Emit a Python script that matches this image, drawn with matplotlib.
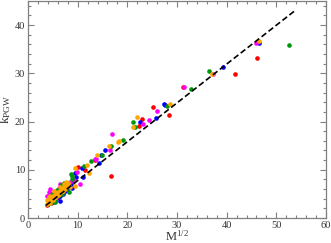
import matplotlib
matplotlib.use('Agg')
import matplotlib.pyplot as plt
from matplotlib.ticker import MultipleLocator

plt.rcParams['font.family'] = ['Liberation Serif', 'DejaVu Serif']
plt.rcParams['mathtext.fontset'] = 'custom'
plt.rcParams['mathtext.rm'] = 'Liberation Serif'

# points per series, (M^1/2, k_PGW)
red_x = [3.9, 4.6, 5.4, 4.9, 6.3, 7.4, 8.0, 9.2, 10.0, 11.5, 5.8, 7.0,
         13.4, 16.8, 22.4, 22.9, 25.1, 28.4, 31.2, 41.6, 46.2]
red_y = [2.7, 3.2, 3.6, 4.4, 5.6, 7.1, 6.6, 7.9, 10.5, 10.0, 4.2, 6.5,
         12.1, 8.7, 19.0, 20.5, 23.1, 21.4, 27.1, 29.8, 33.2]

blue_x = [4.1, 5.0, 6.4, 6.5, 7.0, 7.5, 7.8, 8.2, 8.6, 8.8, 6.0, 5.6,
          9.5, 9.7, 9.0, 10.9, 11.0, 14.3, 14.7, 15.6, 22.5, 25.8,
          27.4, 27.6, 39.2, 46.5]
blue_y = [2.8, 3.3, 3.5, 4.5, 4.9, 5.5, 6.0, 6.4, 7.0, 6.2, 4.3, 4.6,
          9.3, 8.4, 7.6, 10.4, 8.6, 11.5, 13.1, 14.0, 19.9, 20.8,
          23.7, 23.4, 31.4, 36.2]

magenta_x = [4.5, 4.2, 4.4, 5.2, 6.5, 6.2, 3.9, 5.0, 7.8, 8.4, 9.9, 10.5,
             9.3, 13.5, 13.7, 16.6, 17.0, 23.1, 24.3, 25.9, 31.5, 37.3, 46.0]
magenta_y = [6.0, 5.4, 4.9, 5.2, 7.1, 6.3, 4.5, 3.5, 7.0, 7.4, 9.5, 7.0,
             7.8, 12.2, 12.2, 14.1, 17.5, 19.5, 20.3, 22.1, 27.1, 29.9, 36.2]

green_x = [4.0, 4.7, 5.4, 6.2, 6.8, 7.1, 7.6, 8.0, 8.3, 5.9, 4.9, 8.6,
           8.9, 7.3, 6.6, 5.5, 8.8, 11.3, 12.7, 14.8, 16.8, 19.2, 21.2,
           21.6, 27.9, 32.8, 36.5, 52.6]
green_y = [3.0, 3.4, 4.0, 4.8, 5.0, 5.8, 6.2, 6.9, 5.4, 5.8, 4.9, 9.2,
           8.7, 7.3, 6.9, 3.3, 8.0, 10.7, 11.9, 13.1, 15.0, 16.2, 19.9,
           18.8, 23.2, 26.8, 30.4, 35.9]

orange_x = [3.9, 4.1, 4.3, 4.5, 4.6, 4.8, 5.0, 5.1, 5.3, 5.5, 5.6, 5.8,
            6.0, 6.1, 6.3, 6.5, 6.7, 6.9, 7.0, 7.2, 7.4, 7.5, 7.7, 7.9,
            8.1, 4.4, 5.2, 6.4, 3.8, 4.2, 7.2, 8.5, 9.4, 9.5, 11.9, 12.3,
            13.8, 16.4, 18.2, 18.4, 21.1, 22.0, 28.5, 37.0, 46.5]
orange_y = [2.9, 3.3, 3.6, 3.1, 3.9, 4.2, 3.8, 4.5, 4.1, 4.8, 4.4, 5.1,
            4.7, 5.4, 5.0, 5.7, 5.3, 6.1, 5.6, 6.4, 6.0, 6.8, 7.5, 6.6,
            7.2, 4.6, 5.5, 6.5, 3.8, 4.3, 7.0, 6.5, 6.7, 10.3, 10.9, 9.4,
            13.0, 14.9, 15.7, 15.9, 18.8, 21.0, 23.6, 29.9, 36.8]

# fitted line
fit_x = [3.6, 54.0]
fit_y = [2.6, 43.2]

fig = plt.figure(figsize=(3.31, 2.43), dpi=100)
ax = fig.add_axes([28 / 331, 1 - 218 / 243, 298 / 331, 217 / 243])

ms = 11
ax.scatter(red_x, red_y, s=ms, color='#ff0000', linewidths=0, zorder=3)
ax.scatter(blue_x, blue_y, s=ms, color='#0000ff', linewidths=0, zorder=3)
ax.scatter(magenta_x, magenta_y, s=ms, color='#ff00ff', linewidths=0, zorder=3)
ax.scatter(green_x, green_y, s=ms, color='#00960a', linewidths=0, zorder=3)
ax.scatter(orange_x, orange_y, s=ms, color='#ffa500', linewidths=0, zorder=3)

ax.plot(fit_x, fit_y, color='black', lw=1.2, dashes=(3.5, 1.8), zorder=4)

ax.set_xlim(0, 60)
ax.set_ylim(0, 45)
ax.xaxis.set_major_locator(MultipleLocator(10))
ax.xaxis.set_minor_locator(MultipleLocator(2))
ax.yaxis.set_major_locator(MultipleLocator(10))
ax.yaxis.set_minor_locator(MultipleLocator(2))
ax.tick_params(which='both', direction='in', top=True, right=True,
               color='#808080', width=0.8, labelsize=7.5, labelcolor='#333333',
               pad=2)
ax.tick_params(which='major', length=4)
ax.tick_params(which='minor', length=2)
for sp in ax.spines.values():
    sp.set_color('#808080')
    sp.set_linewidth(0.9)

ax.set_xlabel(r'$\mathregular{M^{1/2}}$', fontsize=9, labelpad=-0.5, color='#333333')
ax.set_ylabel(r'$\mathregular{k_{PGW}}$', fontsize=9.5, labelpad=1, color='#333333')

fig.savefig('out.png', dpi=100)
